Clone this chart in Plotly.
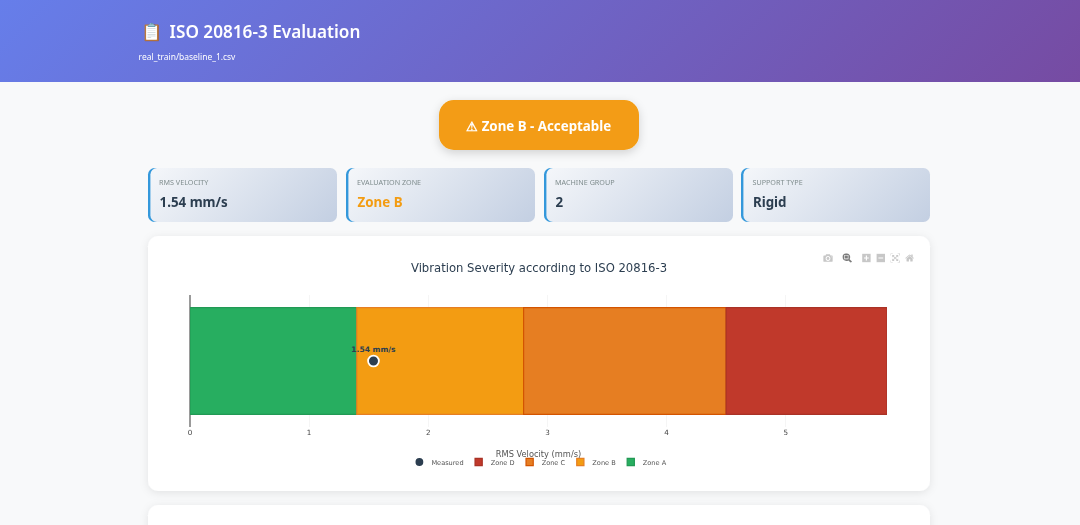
import base64
import plotly.graph_objects as go

# page is laid out at 1800 wide and scaled down to 0.6 in the browser
W = 1800
H = 875
S = W / 1080

zone_names = ['Zone A', 'Zone B', 'Zone C', 'Zone D']
zone_widths = [1.4, 1.4, 1.7, 1.35]
zone_colors = ['#27ae60', '#f39c12', '#e67e22', '#c0392b']
zone_lines = ['#229954', '#e67e22', '#d35400', '#a93226']

measured = [1.54]
measured_label = ['<b>1.54 mm/s</b>']
row = ['severity']

card_labels = ['RMS VELOCITY', 'EVALUATION ZONE', 'MACHINE GROUP', 'SUPPORT TYPE']
card_values = ['1.54 mm/s', 'Zone B', '2', 'Rigid']
card_colors = ['#2c3e50', '#f39c12', '#2c3e50', '#2c3e50']
card_left = [148, 346, 544, 741]


def px(x):
    return x * S / W


def py(y):
    return 1 - y * S / H


def css_135(name, x, y, w, h, c0, c1):
    # same direction as a css 135deg gradient on a box
    cx, cy, d = x + w / 2, y + h / 2, (w + h) / 4
    return (f'<linearGradient id="{name}" gradientUnits="userSpaceOnUse" '
            f'x1="{cx-d}" y1="{cy-d}" x2="{cx+d}" y2="{cy+d}">'
            f'<stop offset="0" stop-color="{c0}"/><stop offset="1" stop-color="{c1}"/></linearGradient>')


# page background: header, badge, cards and panels
defs = css_135('head', 0, 0, W, 82 * S, '#667eea', '#764ba2')
cards_svg = ''
for i, x in enumerate(card_left):
    defs += css_135(f'card{i}', x * S, 168 * S, 189 * S, 54 * S, '#f5f7fa', '#c3cfe2')
    cards_svg += (
        f'<rect x="{x*S}" y="{168*S}" width="30" height="{54*S}" rx="11" fill="#3498db"/>'
        f'<rect x="{x*S+4}" y="{168*S}" width="{189*S-4}" height="{54*S}" rx="11" fill="url(#card{i})"/>'
    )

svg = f'''<svg xmlns="http://www.w3.org/2000/svg" width="{W}" height="{H}" viewBox="0 0 {W} {H}">
<defs>
{defs}
<filter id="soft" x="-10%" y="-20%" width="120%" height="140%">
<feDropShadow dx="0" dy="3" stdDeviation="7" flood-color="#000" flood-opacity="0.09"/></filter>
<filter id="badge" x="-20%" y="-40%" width="140%" height="190%">
<feDropShadow dx="0" dy="5" stdDeviation="8" flood-color="#000" flood-opacity="0.16"/></filter>
</defs>
<rect width="{W}" height="{H}" fill="#f8f9fa"/>
<rect width="{W}" height="{82*S}" fill="url(#head)"/>
<rect x="{439*S}" y="{100*S}" width="{200*S}" height="{50*S}" rx="25" fill="#f39c12" filter="url(#badge)"/>
{cards_svg}
<rect x="{148*S}" y="{236*S}" width="{782*S}" height="{255*S}" rx="17" fill="#fff" filter="url(#soft)"/>
<rect x="{148*S}" y="{505*S}" width="{782*S}" height="{100*S}" rx="17" fill="#fff" filter="url(#soft)"/>
</svg>'''
bg = 'data:image/svg+xml;base64,' + base64.b64encode(svg.encode()).decode()

fig = go.Figure()

# stacked zones
for i in range(len(zone_names)):
    fig.add_trace(go.Bar(
        y=row,
        x=[zone_widths[i]],
        base=[sum(zone_widths[:i])],
        orientation='h',
        width=0.81,
        name=zone_names[i],
        marker=dict(color=zone_colors[i], line=dict(color=zone_lines[i], width=2)),
    ))

fig.add_trace(go.Scatter(
    y=row,
    x=measured,
    mode='markers+text',
    name='Measured',
    text=measured_label,
    textposition='top center',
    textfont=dict(size=12.6, color='#2c3e50', family='DejaVu Sans'),
    marker=dict(size=18, color='#2c3e50', line=dict(color='white', width=3)),
))

page_font = 'Noto Sans'
notes = [
    dict(x=px(140), y=py(31), text='📋\u2009 ISO 20816-3 Evaluation',
         font=dict(size=28.6, color='white', family=page_font, weight=600)),
    dict(x=px(137.5), y=py(57), text='real_train/baseline_1.csv', font=dict(size=14.1, color='white', family=page_font)),
]
for i in range(len(card_left)):
    notes.append(dict(x=px(card_left[i] + 10), y=py(183), text=card_labels[i],
                      font=dict(size=12, color='#7f8c8d', family=page_font)))
    notes.append(dict(x=px(card_left[i] + 10.5), y=py(202), text=f'<b>{card_values[i]}</b>',
                      font=dict(size=22.2, color=card_colors[i], family=page_font)))
notes.append(dict(x=px(538.5), y=py(126), text='<b>⚠ Zone B - Acceptable</b>', xanchor='center',
                  font=dict(size=22.2, color='white', family=page_font)))
for n in notes:
    n.setdefault('xanchor', 'left')
    n.update(xref='paper', yref='paper', yanchor='middle', showarrow=False)

fig.update_layout(
    width=W,
    height=H,
    margin=dict(l=0, r=0, t=0, b=0, autoexpand=False),
    paper_bgcolor='rgba(0,0,0,0)',
    plot_bgcolor='#fafafa',
    barmode='overlay',
    font=dict(family='DejaVu Sans', size=12, color='#2c3e50'),
    title=dict(text='Vibration Severity according to ISO 20816-3', x=px(539), xanchor='center',
               y=py(268), yanchor='middle', font=dict(size=19.4, color='#2c3e50')),
    xaxis=dict(domain=[px(190), px(887)], range=[0, 5.85], anchor='y', showgrid=True, gridcolor='#eeeeee',
               tickfont=dict(size=12, color='#444'), zeroline=True, zerolinecolor='#9a9a9a', zerolinewidth=2,
               title=dict(text='RMS Velocity (mm/s)', standoff=25.5, font=dict(size=13.8, color='#555'))),
    yaxis=dict(domain=[py(427), py(295)], range=[-0.5, 0.5], showticklabels=False, showgrid=False, zeroline=False),
    legend=dict(orientation='h', x=px(538.5), xanchor='center', y=py(462), yanchor='middle',
                traceorder='reversed', font=dict(size=11, color='#555'), bgcolor='rgba(0,0,0,0)'),
    modebar=dict(bgcolor='rgba(255,255,255,0)', color='rgba(68,68,68,0.3)', activecolor='rgba(68,68,68,0.7)'),
    images=[dict(source=bg, xref='paper', yref='paper', x=0, y=1, sizex=1, sizey=1,
                 sizing='stretch', layer='below', xanchor='left', yanchor='top')],
    annotations=notes,
)

post = """
document.body.style.margin = '0';
document.body.style.overflow = 'hidden';
document.documentElement.style.overflow = 'hidden';
var gd = document.getElementById('{plot_id}');
gd.style.transform = 'scale(0.6)';
gd.style.transformOrigin = '0 0';
var mb = gd.querySelector('.modebar');
if (mb) { mb.style.top = '419px'; mb.style.right = '272px'; }
"""

fig.write_html("out.html", post_script=post, config=dict(
    displayModeBar=True, displaylogo=False,
    modeBarButtonsToRemove=['pan2d', 'select2d', 'lasso2d'],
))
